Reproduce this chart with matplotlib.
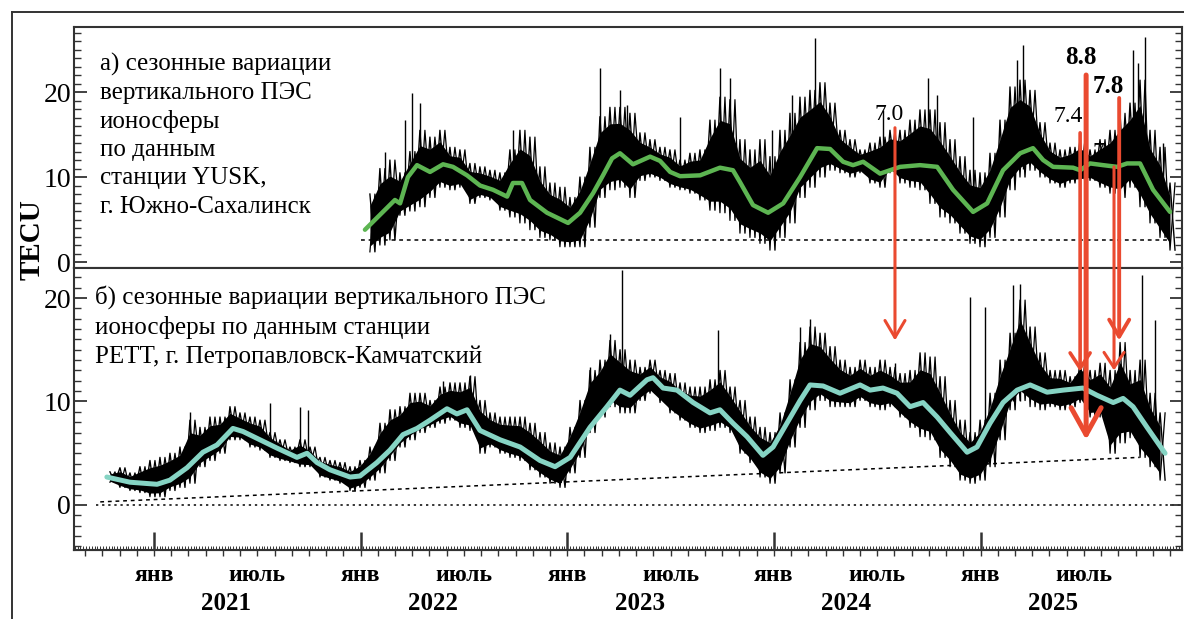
import numpy as np
import matplotlib
matplotlib.use('Agg')
import matplotlib.pyplot as plt
from matplotlib.ticker import MultipleLocator, FixedLocator
from matplotlib.patches import ConnectionPatch, ArrowStyle
from matplotlib.lines import Line2D
import matplotlib.transforms as mtransforms

plt.rcParams['font.family'] = ['Liberation Serif', 'DejaVu Serif']

# ---- data (time in decimal years, TEC in TECU) ----
# step of the envelope readings (about 17.7 days)
ENV_STEP = 0.0484

# a) YUSK, Yuzhno-Sakhalinsk: smoothed seasonal curve
yusk_t = [2022.021, 2022.166, 2022.191, 2022.229, 2022.273, 2022.336, 2022.399, 2022.447,
          2022.515, 2022.578, 2022.641, 2022.709, 2022.737, 2022.781, 2022.820, 2022.902,
          2023.004, 2023.062, 2023.125, 2023.173, 2023.217, 2023.255, 2023.318, 2023.401,
          2023.449, 2023.498, 2023.546, 2023.643, 2023.739, 2023.802, 2023.836, 2023.899,
          2023.972, 2024.045, 2024.127, 2024.209, 2024.272, 2024.335, 2024.383, 2024.432,
          2024.514, 2024.562, 2024.611, 2024.707, 2024.790, 2024.867, 2024.964, 2025.032,
          2025.109, 2025.192, 2025.254, 2025.303, 2025.351, 2025.448, 2025.482, 2025.530,
          2025.593, 2025.661, 2025.709, 2025.772, 2025.835, 2025.917]
yusk_smooth = [3.8, 7.3, 6.9, 10.0, 11.4, 10.6, 11.5, 11.2,
               10.2, 9.0, 8.5, 7.7, 9.3, 9.3, 7.3, 5.8,
               4.6, 5.8, 8.1, 10.2, 12.2, 12.8, 11.5, 12.4,
               11.9, 10.6, 10.1, 10.2, 11.1, 10.8, 9.4, 6.7,
               5.8, 6.9, 10.0, 13.4, 13.3, 11.8, 11.4, 11.8,
               10.4, 10.8, 11.2, 11.4, 11.2, 8.5, 5.9, 6.9,
               10.8, 12.8, 13.4, 12.0, 11.2, 11.1, 10.8, 11.6,
               11.4, 11.2, 11.6, 11.6, 8.5, 5.9]

# a) daily spread: upper / lower envelope, first reading at 2022.045
yusk_env_t0 = 2022.045
yusk_high = [8.0, 11.0, 12.0, 10.5, 13.0, 15.5, 14.7, 15.5, 13.5, 13.2,
             11.6, 11.2, 10.8, 10.5, 13.2, 15.5, 14.7, 11.2, 9.3, 8.8,
             7.6, 10.0, 13.5, 17.1, 18.2, 18.2, 17.5, 15.2, 14.4, 13.5,
             13.2, 12.0, 12.8, 13.2, 16.7, 19.4, 19.1, 14.4, 13.2, 14.4,
             12.4, 15.5, 17.5, 19.4, 20.2, 21.1, 18.7, 15.5, 14.4, 13.2,
             14.0, 14.7, 15.5, 15.5, 16.7, 17.9, 17.9, 16.4, 14.4, 12.4,
             10.8, 10.5, 12.8, 16.7, 20.6, 21.4, 20.2, 16.4, 14.0, 13.2,
             13.5, 14.4, 13.2, 14.4, 15.5, 17.5, 18.7, 21.4, 15.5, 13.5,
             9.3]
yusk_low = [1.2, 2.0, 2.6, 5.5, 6.0, 6.5, 7.6, 8.8, 8.5, 8.8,
            6.9, 7.6, 7.3, 6.1, 5.3, 4.6, 3.8, 2.9, 2.6, 1.8,
            1.8, 1.8, 4.1, 7.6, 8.5, 8.8, 7.6, 9.6, 10.0, 9.6,
            8.8, 8.5, 8.1, 7.3, 6.1, 5.8, 4.9, 3.4, 2.9, 2.2,
            1.4, 2.9, 4.6, 7.6, 8.8, 10.0, 10.8, 10.5, 10.0, 10.5,
            9.3, 8.8, 10.5, 9.3, 8.8, 8.5, 6.9, 5.3, 4.6, 3.4,
            2.2, 1.8, 2.9, 5.3, 8.5, 10.0, 10.8, 10.0, 9.3, 8.8,
            9.3, 9.3, 9.6, 8.8, 8.1, 7.6, 8.8, 6.5, 4.6, 2.9,
            1.4]
# a) isolated spikes: time, base, peak
yusk_spike_t = [2022.118, 2022.215, 2022.249, 2022.287, 2022.737, 2023.159, 2023.255, 2023.289,
                2023.546, 2023.739, 2023.788, 2023.991, 2024.088, 2024.199, 2024.528, 2024.746,
                2024.790, 2024.964, 2025.177, 2025.206, 2025.738, 2025.762, 2025.796, 2025.884]
yusk_spike_lo = [7, 9, 10, 11, 8, 9, 11, 11, 10, 10, 10, 5, 8, 12, 11, 10, 10, 6, 11, 11, 11, 11, 11, 6]
yusk_spike_hi = [12.9, 16.7, 19.9, 18.7, 15.5, 22.8, 20.2, 18.5, 17.1, 22.8, 21.6, 15.5,
                 19.6, 26.4, 17.9, 21.6, 19.6, 17.1, 23.8, 25.5, 24.9, 23.4, 26.5, 14.0]
yusk_base_t = [2022.0, 2025.92]
yusk_base_v = [2.6, 2.6]

# b) PETT, Petropavlovsk-Kamchatsky: smoothed seasonal curve
pett_t = [2020.772, 2020.884, 2021.015, 2021.077, 2021.160, 2021.237, 2021.305, 2021.382,
          2021.431, 2021.513, 2021.595, 2021.692, 2021.741, 2021.789, 2021.852, 2021.949,
          2021.997, 2022.079, 2022.142, 2022.205, 2022.273, 2022.336, 2022.418, 2022.466,
          2022.515, 2022.578, 2022.675, 2022.772, 2022.868, 2022.941, 2023.014, 2023.110,
          2023.192, 2023.255, 2023.304, 2023.386, 2023.415, 2023.464, 2023.531, 2023.609,
          2023.691, 2023.739, 2023.802, 2023.870, 2023.947, 2023.996, 2024.063, 2024.127,
          2024.175, 2024.238, 2024.320, 2024.417, 2024.466, 2024.528, 2024.596, 2024.659,
          2024.722, 2024.790, 2024.853, 2024.935, 2024.983, 2025.046, 2025.109, 2025.177,
          2025.240, 2025.322, 2025.400, 2025.496, 2025.564, 2025.642, 2025.690, 2025.738,
          2025.806, 2025.893]
pett_smooth = [2.7, 2.2, 2.0, 2.4, 3.6, 5.1, 5.8, 7.4,
               7.1, 6.3, 5.5, 4.6, 5.0, 4.1, 3.4, 2.7,
               2.8, 4.1, 5.3, 6.8, 7.4, 8.2, 9.3, 8.8,
               9.2, 7.2, 6.3, 5.6, 4.3, 3.7, 4.6, 7.5,
               9.5, 11.1, 10.6, 12.1, 12.3, 11.3, 11.1, 9.9,
               8.9, 9.2, 7.9, 6.6, 4.8, 5.6, 7.9, 10.1,
               11.6, 11.5, 10.8, 11.6, 11.1, 11.3, 10.8, 9.5,
               9.9, 8.5, 7.0, 5.1, 5.6, 7.9, 9.9, 11.1,
               11.6, 10.9, 11.1, 11.3, 10.6, 9.9, 10.3, 9.5,
               7.5, 5.0]

# b) daily spread, first reading at 2020.787
pett_env_t0 = 2020.787
pett_high = [3.2, 3.6, 3.1, 3.7, 4.3, 4.6, 5.0, 5.6, 8.2, 7.5,
             8.5, 8.5, 9.5, 8.9, 8.5, 8.2, 7.0, 6.3, 5.6, 6.3,
             5.6, 4.6, 4.3, 4.1, 3.7, 4.3, 5.6, 7.9, 9.2, 9.5,
             10.8, 10.8, 10.1, 11.4, 11.8, 11.8, 12.4, 10.1, 8.9, 8.5,
             8.5, 8.5, 7.9, 7.0, 6.0, 5.6, 7.5, 10.1, 13.0, 14.0,
             15.9, 15.0, 14.0, 13.3, 14.0, 13.0, 12.7, 11.8, 11.4, 11.4,
             12.1, 13.0, 11.4, 10.1, 8.5, 7.5, 7.0, 8.9, 12.1, 15.7,
             17.2, 16.6, 15.3, 14.0, 13.3, 14.0, 13.3, 14.0, 13.3, 12.7,
             13.0, 14.7, 14.3, 12.4, 10.1, 8.2, 7.0, 8.2, 10.8, 14.0,
             16.6, 19.8, 17.2, 14.7, 13.0, 13.0, 12.4, 14.0, 13.0, 13.7,
             13.0, 15.7, 13.0, 14.0, 10.8, 8.9]
pett_low = [2.2, 1.7, 1.4, 1.2, 0.8, 0.8, 1.4, 1.7, 2.1, 3.7,
            4.3, 5.0, 6.3, 6.3, 5.6, 5.3, 4.6, 4.3, 4.1, 3.7,
            3.7, 2.7, 2.4, 2.1, 1.4, 1.7, 2.4, 3.1, 4.3, 5.6,
            6.3, 7.0, 7.5, 7.9, 8.2, 7.5, 7.2, 5.0, 5.6, 5.0,
            4.6, 4.3, 3.4, 2.7, 2.1, 1.7, 3.1, 4.6, 7.0, 8.5,
            9.5, 8.9, 8.9, 10.1, 10.8, 9.9, 8.9, 8.2, 7.5, 7.0,
            7.2, 7.5, 7.0, 5.0, 4.1, 2.7, 2.1, 3.1, 5.6, 7.5,
            9.2, 10.1, 9.5, 9.5, 9.5, 10.1, 9.5, 9.2, 9.5, 8.5,
            7.5, 6.6, 6.3, 4.6, 3.7, 2.4, 2.1, 2.4, 3.7, 6.3,
            9.2, 10.1, 9.5, 9.2, 9.5, 9.2, 9.5, 9.9, 8.5, 8.5,
            5.0, 6.0, 6.5, 4.6, 3.7, 2.4]
pett_spike_t = [2021.174, 2021.561, 2021.707, 2021.745, 2022.399, 2022.529, 2023.110, 2023.207,
                2023.265, 2023.730, 2024.127, 2024.175, 2024.586, 2024.949, 2025.022, 2025.158,
                2025.192, 2025.782, 2025.845]
pett_spike_lo = [4, 6, 5, 5, 9, 9, 8, 10, 11, 9, 10, 11, 10, 5, 5, 10, 10, 9, 7]
pett_spike_hi = [9.0, 9.9, 9.5, 9.2, 12.0, 12.6, 13.3, 16.5, 22.7, 16.9, 17.2, 18.0,
                 13.7, 20.1, 19.1, 21.3, 21.4, 22.2, 17.9]
pett_zero_t = [2020.72, 2025.975]
pett_zero_v = [0, 0]
pett_trend_t = [2020.74, 2025.77]
pett_trend_v = [0.3, 4.6]

# earthquakes (magnitude labels) marked by red arrows
quake_t = [2024.586, 2025.482, 2025.511, 2025.646, 2025.671]
quake_mag = ['7.0', '7.4', '8.8', '7.4', '7.8']
quake_top = [15.8, 15.2, 22.0, 11.2, 19.3]       # start, upper panel
quake_tip = [15.9, 12.9, 6.3, 13.0, 15.9]        # tip, lower panel
quake_lw = [2.2, 2.6, 3.6, 2.2, 2.8]
quake_head = [(1.22, 0.72), (1.1, 0.72), (1.94, 1.08), (1.1, 0.72), (1.22, 0.72)]
quake_label_t = [2024.557, 2025.424, 2025.487, 2025.613, 2025.617]
quake_label_v = [17.3, 17.1, 24.1, 12.9, 20.6]
quake_bold = [False, False, True, False, True]
quake_hidden = [False, False, False, True, False]

years = [2021, 2022, 2023, 2024, 2025]

GREEN = '#5db552'
TEAL = '#86d4c4'
RED = '#ea4a30'
FRAME = '#333333'

W, H = 1184, 619
fig = plt.figure(figsize=(W / 100, H / 100), dpi=100)
fig.patch.set_facecolor('white')

ax_top = fig.add_axes([74 / W, 1 - 268 / H, 1108 / W, 241 / H])
ax_bot = fig.add_axes([74 / W, 1 - 550 / H, 1108 / W, 282 / H])

XLIM = (2020.613, 2025.975)


def draw_noise(ax, t0, high, low):
    high = np.asarray(high)
    low = np.asarray(low)
    t = t0 + ENV_STEP * np.arange(len(high))
    # dense core of the daily values
    span = high - low
    ax.fill_between(t, low + 0.1 * span, high - 0.2 * span, color='black', lw=0, zorder=2)
    # two zigzags between maxima and minima give the ragged, hairy edges
    zz_t = np.column_stack([t, t + ENV_STEP / 2]).ravel()
    ax.plot(zz_t, np.column_stack([high, low]).ravel(), color='black', lw=1.0, zorder=2)
    ax.plot(zz_t, np.column_stack([low, high]).ravel(), color='black', lw=0.9, zorder=2)


def style_axes(ax):
    ax.set_xlim(*XLIM)
    for sp in ax.spines.values():
        sp.set_linewidth(1.5)
        sp.set_color(FRAME)
    ax.yaxis.set_major_locator(MultipleLocator(10))
    ax.yaxis.set_minor_locator(MultipleLocator(1))
    ax.tick_params(axis='y', which='both', direction='in', left=True, right=True,
                   labelsize=20, color=FRAME, pad=2)
    ax.tick_params(axis='y', which='major', length=9, width=1.3)
    ax.tick_params(axis='y', which='minor', length=5, width=1.0)


# upper panel
ax = ax_top
draw_noise(ax, yusk_env_t0, yusk_high, yusk_low)
ax.vlines(yusk_spike_t, yusk_spike_lo, yusk_spike_hi, color='black', lw=1.0, zorder=2)
ax.plot(yusk_base_t, yusk_base_v, color='black', lw=1.1, ls=(0, (2.5, 2.5)), zorder=1)
ax.plot(yusk_t, yusk_smooth, color=GREEN, lw=3.2, zorder=3, solid_capstyle='round')
style_axes(ax)
ax.set_ylim(-0.7, 27.65)
ax.tick_params(axis='x', which='both', bottom=False, labelbottom=False)
ax.text(100 / W, 1 - 135 / H,
        'а) сезонные вариации\nвертикального ПЭС\nионосферы\nпо данным\n'
        'станции YUSK,\nг. Южно-Сахалинск',
        transform=fig.transFigure, ha='left', va='center', fontsize=18, linespacing=1.36)

# lower panel
ax = ax_bot
draw_noise(ax, pett_env_t0, pett_high, pett_low)
ax.vlines(pett_spike_t, pett_spike_lo, pett_spike_hi, color='black', lw=1.0, zorder=2)
ax.plot(pett_zero_t, pett_zero_v, color='black', lw=1.1, ls=(0, (1.5, 2.5)), zorder=1)
ax.plot(pett_trend_t, pett_trend_v, color='black', lw=1.1, ls=(0, (2.5, 2.5)), zorder=1)
ax.plot(pett_t, pett_smooth, color=TEAL, lw=3.6, zorder=3, solid_capstyle='round')
style_axes(ax)
ax.set_ylim(-4.35, 22.9)
ax.text(95 / W, 1 - 327 / H,
        'б) сезонные вариации вертикального ПЭС\nионосферы по данным станции\n'
        'PETT, г. Петропавловск-Камчатский',
        transform=fig.transFigure, ha='left', va='center', fontsize=18, linespacing=1.38)

# x axis: January ticks inward, 5-day comb inward, month ticks outward
ax.xaxis.set_major_locator(FixedLocator(years))
ax.xaxis.set_minor_locator(MultipleLocator(1 / 73))
ax.tick_params(axis='x', which='major', direction='in', length=13, width=1.8,
               labelbottom=False, color=FRAME)
ax.tick_params(axis='x', which='minor', direction='in', length=3, width=0.7, color=FRAME)
sec = ax.secondary_xaxis('bottom')
months = [y + m / 12 for y in range(2020, 2026) for m in range(12)]
sec.xaxis.set_major_locator(FixedLocator(months))
sec.tick_params(axis='x', direction='out', length=4, width=1.0, labelbottom=False, color=FRAME)
sec.spines['bottom'].set_linewidth(1.5)
sec.spines['bottom'].set_color(FRAME)

trans = mtransforms.blended_transform_factory(ax.transData, ax.transAxes)
for y in years:
    ax.text(y, -0.089, 'янв', transform=trans, ha='center', va='center',
            fontsize=17, fontweight='bold')
    ax.text(y + 0.5, -0.089, 'июль', transform=trans, ha='center', va='center',
            fontsize=17, fontweight='bold')
    ax.text(y + 0.35, -0.188, str(y), transform=trans, ha='center', va='center',
            fontsize=18, fontweight='bold')

fig.text(32 / W, 1 - 240 / H, 'TECU', rotation=90, ha='center', va='center',
         fontsize=21, fontweight='bold')

# earthquake arrows from the upper panel down into the lower one
for i in range(len(quake_t)):
    hl, hw = quake_head[i]
    con = ConnectionPatch(xyA=(quake_t[i], quake_top[i]), coordsA='data', axesA=ax_top,
                          xyB=(quake_t[i], quake_tip[i]), coordsB='data', axesB=ax_bot,
                          arrowstyle=ArrowStyle('->', head_length=hl, head_width=hw),
                          mutation_scale=10, color=RED, lw=quake_lw[i], zorder=6)
    fig.add_artist(con)
    ax_top.text(quake_label_t[i], quake_label_v[i], quake_mag[i], ha='center', va='center',
                fontsize=18 if quake_bold[i] else 17,
                fontweight='bold' if quake_bold[i] else 'normal',
                zorder=1 if quake_hidden[i] else 5)

# outer frame of the original figure
fig.add_artist(Line2D([12 / W, 1], [1 - 12 / H, 1 - 12 / H], color=FRAME, lw=1.4,
                      transform=fig.transFigure))
fig.add_artist(Line2D([12 / W, 12 / W], [0, 1 - 12 / H], color=FRAME, lw=1.4,
                      transform=fig.transFigure))

fig.savefig('out.png', dpi=100, facecolor='white')
